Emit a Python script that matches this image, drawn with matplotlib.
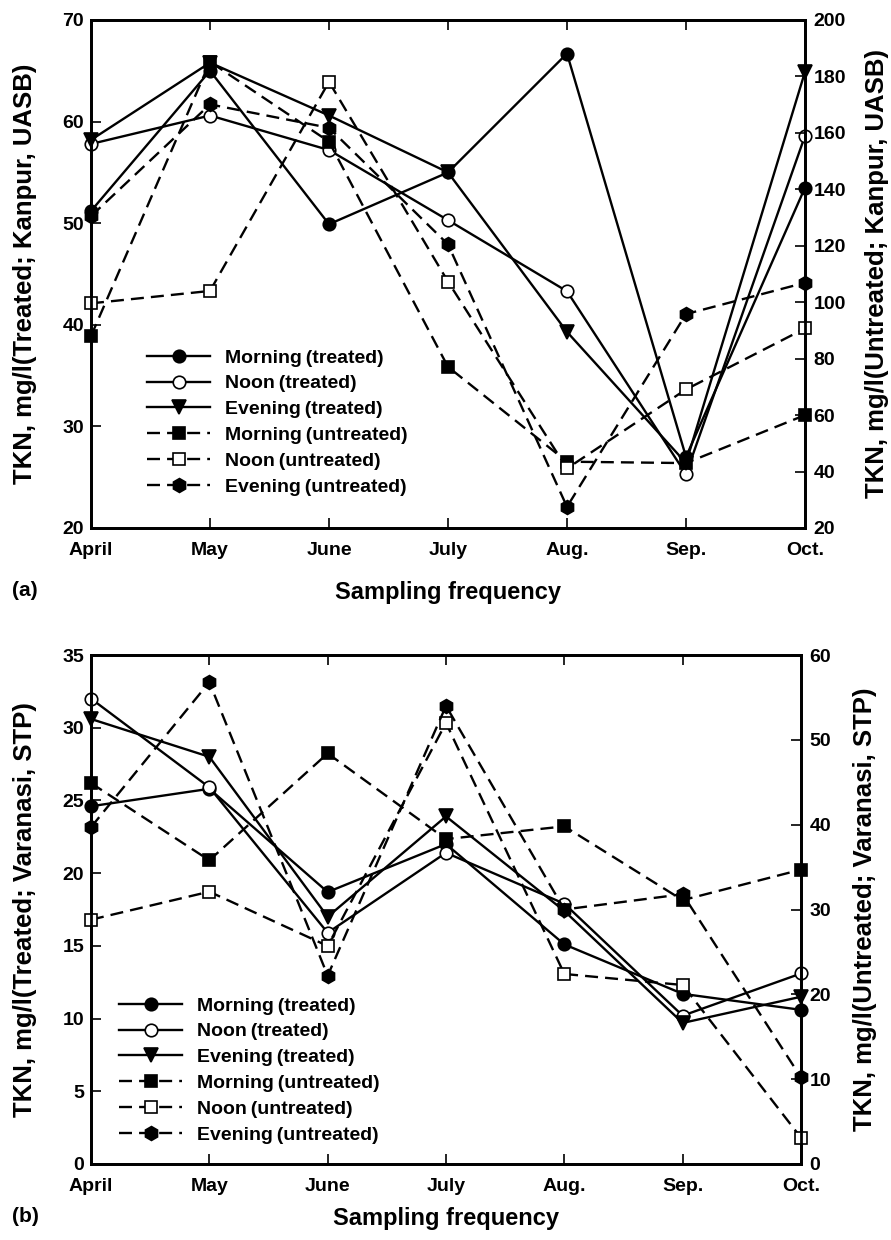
import matplotlib
matplotlib.use("Agg")
import matplotlib.pyplot as plt

plt.rcParams['font.family'] = ['Liberation Sans', 'DejaVu Sans']
plt.rcParams['font.weight'] = 'bold'

months = ["April", "May", "June", "July", "Aug.", "Sep.", "Oct."]
labels = ["Morning\u2009(treated)", "Noon\u2009(treated)", "Evening\u2009(treated)",
          "Morning\u2009(untreated)", "Noon\u2009(untreated)", "Evening\u2009(untreated)"]

# Panel (a): Kanpur, UASB
a_morning_tr = [51.2, 65.0, 49.9, 55.0, 66.7, 27.0, 53.5]
a_noon_tr = [57.8, 60.6, 57.2, 50.3, 43.3, 25.3, 58.6]
a_evening_tr = [58.2, 65.8, 60.6, 55.0, 39.3, 26.4, 64.9]
a_morning_un = [88.0, 185.2, 156.9, 77.1, 43.5, 43.0, 60.0]
a_noon_un = [99.6, 104.0, 178.1, 107.3, 41.1, 69.1, 90.7]
a_evening_un = [130.5, 170.1, 161.8, 120.5, 27.5, 95.8, 106.9]

# Panel (b): Varanasi, STP
b_morning_tr = [24.6, 25.8, 18.7, 22.0, 15.1, 11.7, 10.6]
b_noon_tr = [32.0, 25.9, 15.9, 21.4, 17.9, 10.2, 13.1]
b_evening_tr = [30.6, 28.0, 17.0, 23.9, 17.4, 9.7, 11.5]
b_morning_un = [44.9, 35.8, 48.4, 38.3, 39.8, 31.1, 34.7]
b_noon_un = [28.8, 32.1, 25.7, 52.0, 22.4, 21.1, 3.1]
b_evening_un = [39.7, 56.8, 22.2, 54.0, 30.0, 31.8, 10.2]

W, H = 891, 1240
fig = plt.figure(figsize=(W / 100, H / 100), dpi=100)

def fr(l, t, r, b):
    return [l / W, 1 - b / H, (r - l) / W, (b - t) / H]

styles_tr = [dict(marker='o', mfc='black'), dict(marker='o', mfc='white'), dict(marker='v', mfc='black')]
styles_un = [dict(marker='s', mfc='black'), dict(marker='s', mfc='white'), dict(marker='h', mfc='black')]

def panel(rect, tr, un, lylim, lyticks, rylim, ryticks, lylabel, rylabel, leg_xy, tag, lblx, xlpad):
    ax = fig.add_axes(rect)
    ax2 = ax.twinx()
    x = list(range(len(months)))
    handles = []
    for ys, st in zip(tr, styles_tr):
        h, = ax.plot(x, ys, color='black', lw=1.7, ls='-', mec='black', mew=1.2,
                     ms=9 if st['marker'] == 'o' else 9.5, clip_on=False, **st)
        handles.append(h)
    for ys, st in zip(un, styles_un):
        h, = ax2.plot(x, ys, color='black', lw=1.7, ls=(0, (5.5, 3)), mec='black', mew=1.2,
                      ms=8.5 if st['marker'] != 'h' else 10, clip_on=False, **st)
        handles.append(h)
    ax.set_xlim(0, 6)
    ax.set_xticks(x)
    ax.set_xticklabels(months)
    ax.set_ylim(*lylim)
    ax.set_yticks(lyticks)
    ax2.set_ylim(*rylim)
    ax2.set_yticks(ryticks)
    for a in (ax, ax2):
        for s in a.spines.values():
            s.set_linewidth(2.0)
    ax.tick_params(axis='x', direction='in', length=7, width=1.2, top=True, labelsize=14, pad=10)
    ax.tick_params(axis='y', direction='in', length=7, width=1.2, labelsize=14, pad=5)
    ax2.tick_params(axis='y', direction='in', length=7, width=1.2, labelsize=14, pad=6)
    ax.set_ylabel(lylabel, fontsize=18.5, fontweight='bold')
    ax2.set_ylabel(rylabel, fontsize=18.5, fontweight='bold', rotation=90)
    ax.yaxis.set_label_coords(lblx[0], 0.5)
    ax2.yaxis.set_label_coords(lblx[1], 0.5)
    ax.set_xlabel("Sampling frequency", fontsize=17, fontweight='bold', labelpad=xlpad)
    leg = ax2.legend(handles, labels, loc='upper left', bbox_to_anchor=(leg_xy[0] / W, 1 - leg_xy[1] / H),
                     bbox_transform=fig.transFigure, frameon=False, fontsize=14,
                     handlelength=3.25, handletextpad=0.75, labelspacing=0.42, borderpad=0,
                     borderaxespad=0)
    for t in leg.get_texts():
        t.set_fontweight('bold')
    fig.text(12 / W, 1 - tag[1] / H, tag[0], fontsize=15, fontweight='bold', va='center', ha='left')
    return ax, ax2

panel(fr(91, 20, 805, 528),
      [a_morning_tr, a_noon_tr, a_evening_tr],
      [a_morning_un, a_noon_un, a_evening_un],
      (20, 70), [20, 30, 40, 50, 60, 70], (20, 200), list(range(20, 201, 20)),
      "TKN, mg/l(Treated; Kanpur, UASB)", "TKN, mg/l(Untreated; Kanpur, UASB)",
      (147, 349), ("(a)", 591), (-0.0756, 1.084), 16)

panel(fr(91, 655, 801, 1164),
      [b_morning_tr, b_noon_tr, b_evening_tr],
      [b_morning_un, b_noon_un, b_evening_un],
      (0, 35), list(range(0, 36, 5)), (0, 60), list(range(0, 61, 10)),
      "TKN, mg/l(Treated; Varanasi, STP)", "TKN, mg/l(Untreated; Varanasi, STP)",
      (119, 997), ("(b)", 1217), (-0.076, 1.073), 9)

fig.savefig("out.png", dpi=100)
